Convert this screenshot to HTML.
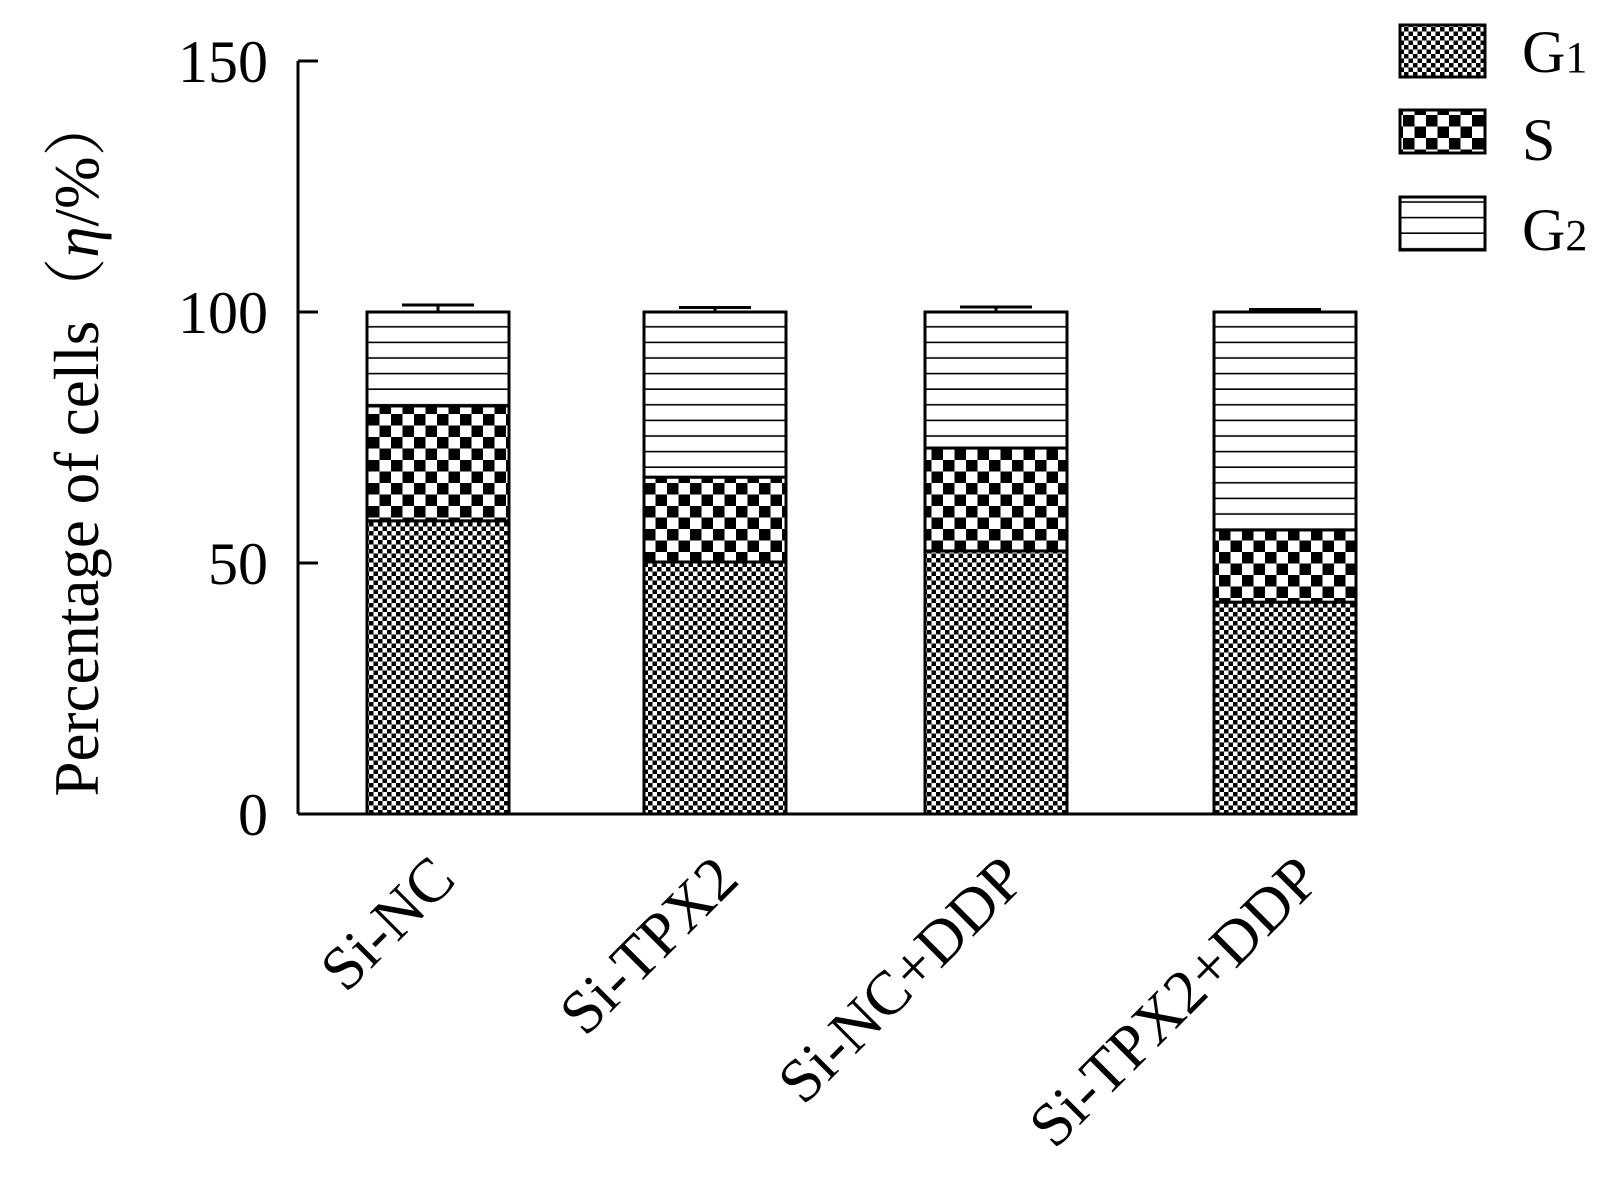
<!DOCTYPE html>
<html><head><meta charset="utf-8"><style>
html,body{margin:0;padding:0;background:#fff;}
svg{display:block;font-family:"Liberation Serif",serif;}
</style></head><body>
<svg id="chart" width="1623" height="1189" viewBox="0 0 1623 1189">
<defs>
<pattern id="pG1" width="9" height="9" patternUnits="userSpaceOnUse">
<rect width="9" height="9" fill="#fff"/><rect width="4.5" height="4.5" fill="#000"/><rect x="4.5" y="4.5" width="4.5" height="4.5" fill="#000"/>
</pattern>
<pattern id="pS" width="23" height="23" patternUnits="userSpaceOnUse">
<rect width="23" height="23" fill="#fff"/><rect width="11.5" height="11.5" fill="#000"/><rect x="11.5" y="11.5" width="11.5" height="11.5" fill="#000"/>
</pattern>
<pattern id="pG2" width="10" height="15.6" patternUnits="userSpaceOnUse">
<rect width="10" height="15.6" fill="#fff"/><rect y="14" width="10" height="2" fill="#000"/>
</pattern>
</defs>
<g id="plot"></g>
<g>
<rect x="1400" y="25" width="85" height="52" fill="url(#pG1)" stroke="#000" stroke-width="3"/>
<text x="1522" y="72" font-size="60">G<tspan font-size="44">1</tspan></text>
<rect x="1400" y="110" width="85" height="43" fill="url(#pS)" stroke="#000" stroke-width="3"/>
<text x="1522" y="160" font-size="60">S</text>
<rect x="1400" y="197" width="85" height="53" fill="url(#pG2)" stroke="#000" stroke-width="3"/>
<text x="1522" y="250" font-size="60">G<tspan font-size="44">2</tspan></text>
</g>
<text transform="translate(98,445) rotate(-90)" text-anchor="middle" font-size="63" font-family="'Liberation Serif','Noto Serif CJK SC',serif">Percentage of cells（<tspan font-style="italic">η</tspan>/%）</text>
</svg>
<script>
const categories=["Si-NC","Si-TPX2","Si-NC+DDP","Si-TPX2+DDP"];
const g1Values=[58.4,50.2,52.4,42.2];
const sValues=[22.9,16.9,20.5,14.4];
const g2Values=[18.7,32.9,27.1,43.4];
const errValues=[1.4,0.9,1.0,0.5];
const yTicks=[0,50,100,150];
const NS="http://www.w3.org/2000/svg";
const plot=document.getElementById('plot');
const y0=814,pxPer=5.02,axisX=298,axisEnd=1356;
function yS(v){return y0-v*pxPer;}
const centers=[438,715,996,1285];
function xS(i){return centers[i];}
const bw=142;
function mk(tag,attrs){const e=document.createElementNS(NS,tag);for(const k in attrs)e.setAttribute(k,attrs[k]);plot.appendChild(e);return e;}
categories.forEach((c,i)=>{
  const segs=[[g1Values[i],'pG1','g1'],[sValues[i],'pS','s'],[g2Values[i],'pG2','g2']];
  let base=0;
  segs.forEach(s=>{
    const r=mk('rect',{x:xS(i)-bw/2,y:yS(base+s[0]),width:bw,height:s[0]*pxPer,fill:'url(#'+s[1]+')',stroke:'#000','stroke-width':3});
    
    
    base+=s[0];
  });
  const top=yS(base), et=yS(base+errValues[i]);
  const e1=mk('line',{x1:xS(i),x2:xS(i),y1:top,y2:et,stroke:'#000','stroke-width':3});
  
  
  const e2=mk('line',{x1:xS(i)-36,x2:xS(i)+36,y1:et,y2:et,stroke:'#000','stroke-width':3});
  
  
  const t=mk('text',{transform:'translate('+(xS(i)+20+i*6)+',882) rotate(-45)','text-anchor':'end','font-size':62});
  t.textContent=c;
  
  
});
const ya=mk('line',{x1:axisX,x2:axisX,y1:yS(150),y2:y0,stroke:'#000','stroke-width':3});


const xa=mk('line',{x1:axisX,x2:axisEnd,y1:y0,y2:y0,stroke:'#000','stroke-width':3});


yTicks.forEach(v=>{
  const tk=mk('line',{x1:axisX,x2:axisX+20,y1:yS(v),y2:yS(v),stroke:'#000','stroke-width':3});
  
  
  const tl=mk('text',{x:268,y:yS(v)+21,'text-anchor':'end','font-size':60});
  tl.textContent=v;
  
  
});
</script>
</body></html>
